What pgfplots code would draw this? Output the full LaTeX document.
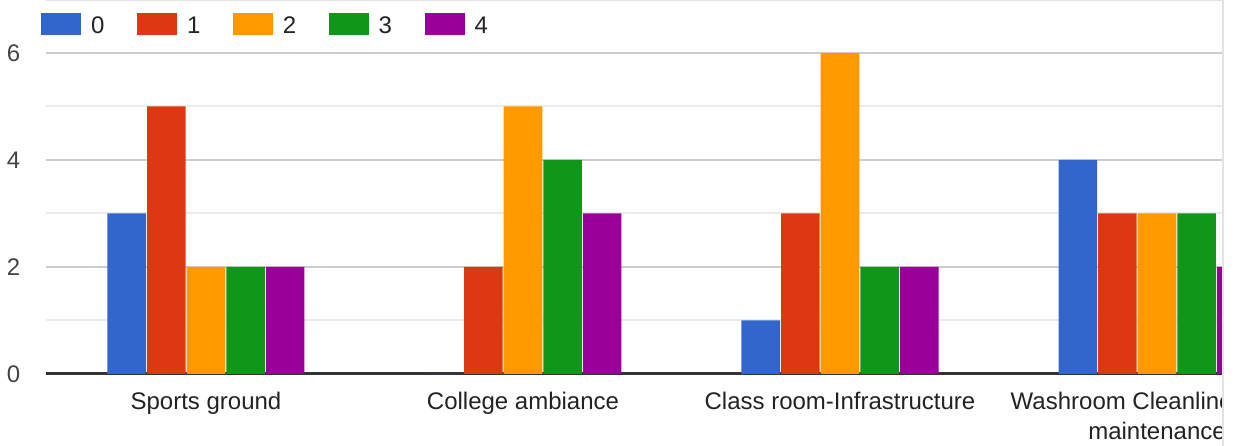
\documentclass[border=0pt]{standalone}
\usepackage{pgfplots}
\pgfplotsset{compat=1.18}
\usepackage{pgfplotstable}
\usepackage{fontspec}
\setmainfont{Liberation Sans}
\definecolor{c0}{HTML}{3366CC}
\definecolor{c1}{HTML}{DC3912}
\definecolor{c2}{HTML}{FF9900}
\definecolor{c3}{HTML}{109618}
\definecolor{c4}{HTML}{990099}
\definecolor{gmaj}{HTML}{CCCCCC}
\definecolor{gmin}{HTML}{EBEBEB}
\definecolor{base}{HTML}{333333}
\definecolor{txt}{HTML}{222222}
\definecolor{ttxt}{HTML}{444444}
\definecolor{frame}{HTML}{E3E3E3}
\pgfplotstableread{
cat a0 a1 a2 a3 a4
0 3 5 2 2 2
1 0 2 5 4 3
2 1 3 6 2 2
3 4 3 3 3 2
}\datatable
\pgfplotsset{swatch/.style={legend image code/.code={\fill[##1] (0pt,-9.5pt) rectangle (40pt,12.5pt);}}}
\begin{document}
\begin{tikzpicture}
\useasboundingbox (-46pt,-72pt) rectangle (1189pt,374pt);
\begin{scope}
\clip (-46pt,-72pt) rectangle (1176pt,374pt);
\begin{axis}[
  at={(0pt,0pt)}, anchor=south west,
  scale only axis, width=1176pt, height=321pt,
  xmin=-0.5047, xmax=3.205, ymin=0, ymax=6,
  ybar=1pt, bar width=38.6pt,
  axis line style={draw=none},
  major tick length=0pt, minor tick length=0pt,
  /pgf/number format/assume math mode=true,
  xtick={0,1,2,3},
  xticklabels={Sports ground, College ambiance, Class room-Infrastructure, {Washroom Cleanliness and\\maintenance}},
  xticklabel style={align=center, anchor=north, inner sep=0pt, yshift=-18pt, font=\fontsize{24}{30}\selectfont, text=txt},
  ytick={2,4,6}, minor ytick={1,3,5},
  extra y ticks={0},
  extra y tick style={major grid style={draw=base, line width=3pt}},
  ymajorgrids, yminorgrids,
  major grid style={draw=gmaj, line width=2pt},
  minor grid style={draw=gmin, line width=2pt},
  yticklabel style={anchor=east, inner sep=0pt, xshift=-25.5pt, font=\fontsize{24}{30}\selectfont, text=ttxt},
  legend columns=-1,
  legend style={draw=none, fill=none, at={(0,1)}, anchor=south west, xshift=-5pt, yshift=17.5pt, inner sep=0pt,
    font=\fontsize{24}{30}\selectfont, text=txt,
    nodes={inner sep=0pt},
    /tikz/every odd column/.append style={column sep=10pt},
    /tikz/every even column/.append style={column sep=32.5pt}},
]
\addplot[fill=c0, draw=none, swatch] table[x=cat, y=a0] {\datatable};
\addplot[fill=c1, draw=none, swatch] table[x=cat, y=a1] {\datatable};
\addplot[fill=c2, draw=none, swatch] table[x=cat, y=a2] {\datatable};
\addplot[fill=c3, draw=none, swatch] table[x=cat, y=a3] {\datatable};
\addplot[fill=c4, draw=none, swatch] table[x=cat, y=a4] {\datatable};
\legend{0,1,2,3,4}
\end{axis}
\end{scope}
\draw[frame, line width=1pt] (0pt,373.5pt) -- (1176pt,373.5pt);
\draw[frame, line width=2pt] (1177pt,-72pt) -- (1177pt,374pt);
\end{tikzpicture}
\end{document}
